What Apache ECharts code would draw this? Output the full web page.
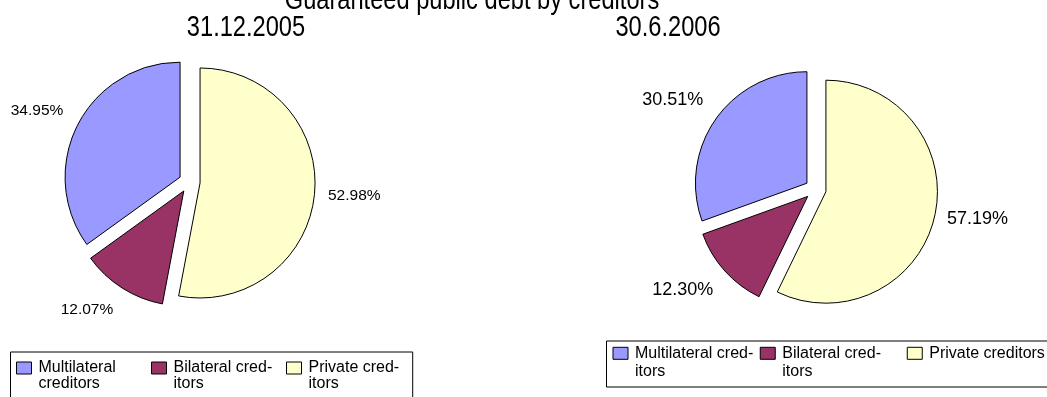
<!DOCTYPE html>
<html>
<head>
<meta charset="utf-8">
<script src="https://cdn.jsdelivr.net/npm/echarts@6/dist/echarts.min.js"></script>
<style>
  html, body { margin: 0; padding: 0; background: #fff; }
  #chart { width: 1047px; height: 397px; }
</style>
</head>
<body>
<div id="chart"></div>
<script>
// Guaranteed public debt, share by creditor group (percent)
const chartTitle = 'Guaranteed public debt by creditors';
const pieTitles = ['31.12.2005', '30.6.2006'];
const creditorNames = ['Multilateral creditors', 'Bilateral creditors', 'Private creditors'];
const legendTextLeft = ['Multilateral\ncreditors', 'Bilateral cred-\nitors', 'Private cred-\nitors'];
const legendTextRight = ['Multilateral cred-\nitors', 'Bilateral cred-\nitors', 'Private creditors'];
const shares2005 = [34.95, 12.07, 52.98];
const shares2006 = [30.51, 12.30, 57.19];

const sliceColors = ['#9999FF', '#993366', '#FFFFCC'];
// slices run clockwise from 12 o'clock: private, bilateral, multilateral
const sliceOrder = [2, 1, 0];
// [labelLine length, length2] per creditor group, used only to place the value labels
const labelPlaceLeft = [[31.4, -13.6], [25.8, -5], [18, -4.5]];
const labelPlaceRight = [[32.4, -14.1], [28.9, -10], [9.6, 3]];

const sansFont = "'Liberation Sans', Arial, sans-serif";

function pieSeries(shares, center, radius, labelSize, place) {
  return {
    type: 'pie',
    center: center,
    radius: radius,
    startAngle: 90,
    clockwise: true,
    selectedMode: 'multiple',
    selectedOffset: 10.6,
    avoidLabelOverlap: false,
    animation: false,
    itemStyle: { borderColor: '#000', borderWidth: 1 },
    select: { itemStyle: { borderColor: '#000', borderWidth: 1 } },
    emphasis: { disabled: true },
    label: {
      show: true,
      position: 'outside',
      distanceToLabelLine: 0,
      fontFamily: sansFont,
      fontSize: labelSize,
      color: '#000',
      formatter: p => p.value.toFixed(2) + '%'
    },
    labelLine: { show: false },
    data: sliceOrder.map(i => ({
      name: creditorNames[i],
      value: shares[i],
      selected: true,
      itemStyle: { color: sliceColors[i] },
      labelLine: { show: false, length: place[i][0], length2: place[i][1] }
    }))
  };
}

// Swatch sits beside the first text line: the icon path is a 15x12 square
// at the top of a taller item box whose middle lines up with two text lines.
function swatchIcon(boxHeight) {
  return 'path://M0,0L15,0L15,12L0,12Z M0,' + boxHeight + 'L0,' + boxHeight;
}

function legendBlock(texts, opts) {
  const lookup = {};
  // every entry is laid out as two lines so the first line stays beside the swatch
  creditorNames.forEach((n, i) => {
    lookup[n] = texts[i].indexOf('\n') < 0 ? texts[i] + '\n' : texts[i];
  });
  const boxHeight = 12 + opts.lineHeight;
  return {
    data: creditorNames.slice(),
    orient: 'horizontal',
    left: opts.left,
    top: opts.top,
    width: opts.width,
    padding: opts.padding,
    itemGap: opts.gap,
    itemWidth: 15,
    itemHeight: boxHeight,
    icon: swatchIcon(boxHeight),
    symbolKeepAspect: false,
    selectedMode: false,
    borderColor: '#000',
    borderWidth: 1,
    borderRadius: 0,
    itemStyle: { borderColor: '#000', borderWidth: 1 },
    formatter: name => lookup[name],
    textStyle: {
      fontFamily: sansFont,
      fontSize: 16,
      color: '#000',
      lineHeight: opts.lineHeight,
      width: opts.textWidth,
      backgroundColor: 'transparent',
      padding: [0, 0, 0, 2]
    }
  };
}

function headingText(text, x, y) {
  return {
    type: 'text',
    x: x,
    y: y,
    scaleX: 0.815,
    silent: true,
    style: {
      text: text,
      fontFamily: sansFont,
      fontSize: 29,
      fontWeight: 'normal',
      fill: '#000',
      align: 'center',
      verticalAlign: 'middle',
      textAlign: 'center',
      textVerticalAlign: 'middle'
    }
  };
}

const option = {
  backgroundColor: '#fff',
  animation: false,
  graphic: [
    headingText(chartTitle, 472, 0.5),
    headingText(pieTitles[0], 246, 27.5),
    headingText(pieTitles[1], 668, 27.5)
  ],
  legend: [
    legendBlock(legendTextLeft, { left: 10.5, top: 352, width: 420, padding: [8, 2.2, 8, 5.5], gap: 10.5, lineHeight: 16, textWidth: 102 }),
    legendBlock(legendTextRight, { left: 606.5, top: 341, width: 520, padding: [3.3, 12, 6.7, 6], gap: 6.5, lineHeight: 18, textWidth: 118 })
  ],
  series: [
    pieSeries(shares2005, [189.5, 182], 115, 15.5, labelPlaceLeft),
    pieSeries(shares2006, [815.6, 189.3], 111.5, 18, labelPlaceRight)
  ]
};

const chart = echarts.init(document.getElementById('chart'), null, { renderer: 'canvas' });
chart.setOption(option);
</script>
</body>
</html>
